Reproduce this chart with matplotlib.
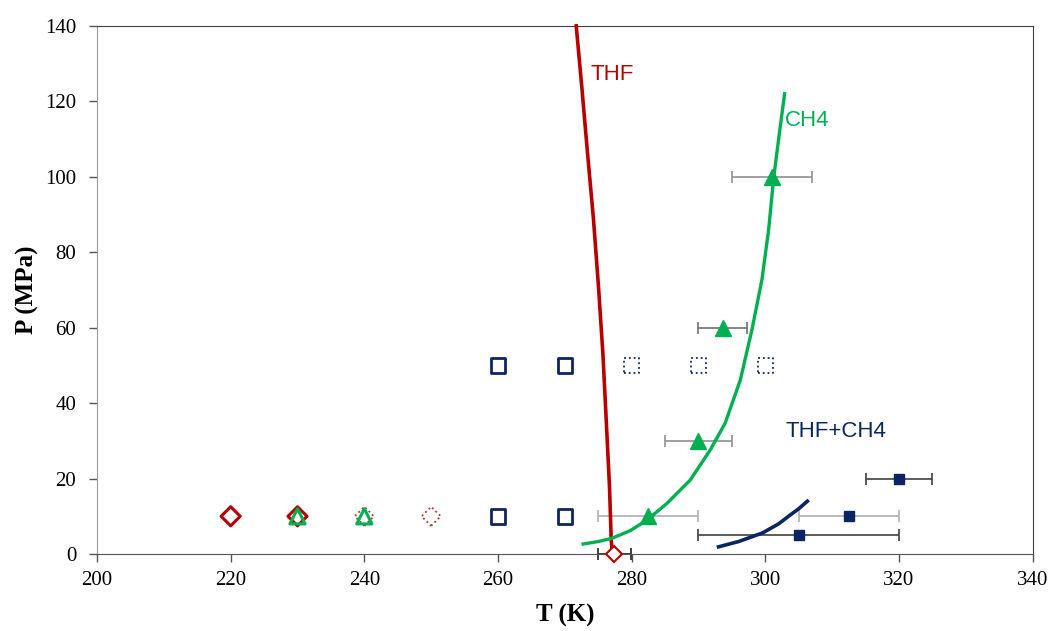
import numpy as np
import matplotlib.pyplot as plt

# ---- phase boundary curves ----
thf_T = [277.1, 276.95, 276.69, 276.2, 275.7, 275.04, 274.3, 273.4, 272.54, 271.71]
thf_P = [0, 3.7, 17.8, 35.5, 53.2, 70.9, 88.6, 106.3, 123.9, 140]

ch4_T = [272.75, 275.0, 277.1, 279.8, 282.29, 285.28, 288.77, 291.77, 294.0, 296.26,
         298.0, 299.5, 300.5, 301.25, 302.0, 302.89]
ch4_P = [2.65, 3.3, 4.2, 6.2, 9.0, 13.4, 19.6, 27.6, 34.7, 46.1,
         59.4, 72.7, 85.9, 99.6, 110.0, 122.0]

mix_T = [293.0, 296.0, 299.6, 302.0, 303.7, 305.0, 306.3]
mix_P = [1.9, 3.3, 5.6, 8.0, 10.3, 12.0, 14.0]

# ---- measured points with T uncertainty ----
ch4_pts_T = [282.5, 290.0, 293.6, 301.0]
ch4_pts_P = [10, 30, 60, 100]
ch4_pts_err = [7.5, 5.0, 3.6, 6.0]
ch4_err_col = ['#b0b0b0', '#909090', '#707070', '#909090']

mix_pts_T = [305.0, 312.5, 320.0]
mix_pts_P = [5, 10, 20]
mix_pts_err = [15.0, 7.5, 5.0]
mix_err_col = ['#404040', '#b0b0b0', '#404040']

thf_pt_T = [277.4]
thf_pt_P = [0]
thf_pt_err = [2.5]

# ---- open markers (no hydrate observed) ----
dia_T = [220, 230]
dia_P = [10, 10]
dia_dot_T = [240, 250]
dia_dot_P = [10, 10]
tri_T = [230, 240]
tri_P = [10, 10]
sq_T = [260, 270, 260, 270]
sq_P = [10, 10, 50, 50]
sq_dot_T = [280, 290, 300]
sq_dot_P = [50, 50, 50]

red = '#b80000'
green = '#00b050'
navy = '#0b2463'

fig = plt.figure(figsize=(10.5, 6.31), dpi=100)
ax = fig.add_axes([0.0924, 0.122, 0.891, 0.837])

# open markers first
ax.scatter(dia_T, dia_P, marker='D', s=95, facecolors='none', edgecolors=red, linewidths=2.2, zorder=3)
ax.scatter(dia_dot_T, dia_dot_P, marker='D', s=95, facecolors='none', edgecolors='#a83030',
           linewidths=1.3, linestyles=':', zorder=3)
ax.scatter(tri_T, tri_P, marker='^', s=120, facecolors='none', edgecolors=green, linewidths=2.2, zorder=4)
ax.scatter(sq_T, sq_P, marker='s', s=110, facecolors='none', edgecolors=navy, linewidths=2.0, zorder=3)
ax.scatter(sq_dot_T, sq_dot_P, marker='s', s=110, facecolors='none', edgecolors=navy,
           linewidths=1.3, linestyles=':', zorder=3)

# error bars
for t, p, e, c in zip(ch4_pts_T, ch4_pts_P, ch4_pts_err, ch4_err_col):
    ax.errorbar(t, p, xerr=e, fmt='none', ecolor=c, elinewidth=1.2, capsize=4, capthick=1.2, zorder=2)
for t, p, e, c in zip(mix_pts_T, mix_pts_P, mix_pts_err, mix_err_col):
    ax.errorbar(t, p, xerr=e, fmt='none', ecolor=c, elinewidth=1.2, capsize=4, capthick=1.2, zorder=2)
ax.errorbar(thf_pt_T, thf_pt_P, xerr=thf_pt_err, fmt='none', ecolor='#202020', elinewidth=1.2,
            capsize=4, capthick=1.2, zorder=2, clip_on=False)

# curves
ax.plot(thf_T, thf_P, color=red, lw=2.6, zorder=5, clip_on=False)
ax.plot(ch4_T, ch4_P, color=green, lw=2.4, zorder=5)
ax.plot(mix_T, mix_P, color=navy, lw=2.6, zorder=5)

# filled points
ax.plot(ch4_pts_T, ch4_pts_P, '^', color=green, ms=11, zorder=6)
ax.plot(mix_pts_T, mix_pts_P, 's', color=navy, ms=7, zorder=6)
ax.plot(thf_pt_T, thf_pt_P, 'D', mfc='white', mec=red, mew=1.5, ms=8, zorder=6, clip_on=False)

# labels on curves
ax.text(273.8, 127, 'THF', color=red, fontsize=16, family='Liberation Sans', va='center')
ax.text(303.0, 115, 'CH4', color=green, fontsize=16, family='Liberation Sans', va='center')
ax.text(303.0, 32.5, 'THF+CH4', color=navy, fontsize=16, family='Liberation Sans', va='center')

ax.set_xlim(200, 340)
ax.set_ylim(0, 140)
ax.set_xticks(np.arange(200, 341, 20))
ax.set_yticks(np.arange(0, 141, 20))
ax.tick_params(direction='out', length=6, width=1, colors='#555555', labelcolor='black',
               labelsize=15)
ax.tick_params(axis='y', pad=9)
ax.tick_params(axis='x', pad=6)
for lab in ax.get_xticklabels() + ax.get_yticklabels():
    lab.set_family('Liberation Serif')

ax.spines['left'].set_color('#999999')
ax.spines['bottom'].set_color('#555555')
ax.spines['top'].set_color('#404040')
ax.spines['right'].set_color('#404040')

ax.set_xlabel('T (K)', family='Liberation Serif', fontsize=18, fontweight='bold', labelpad=10)
ax.set_ylabel('P (MPa)', family='Liberation Serif', fontsize=18, fontweight='bold', labelpad=4)

fig.savefig('out.png', dpi=100)
